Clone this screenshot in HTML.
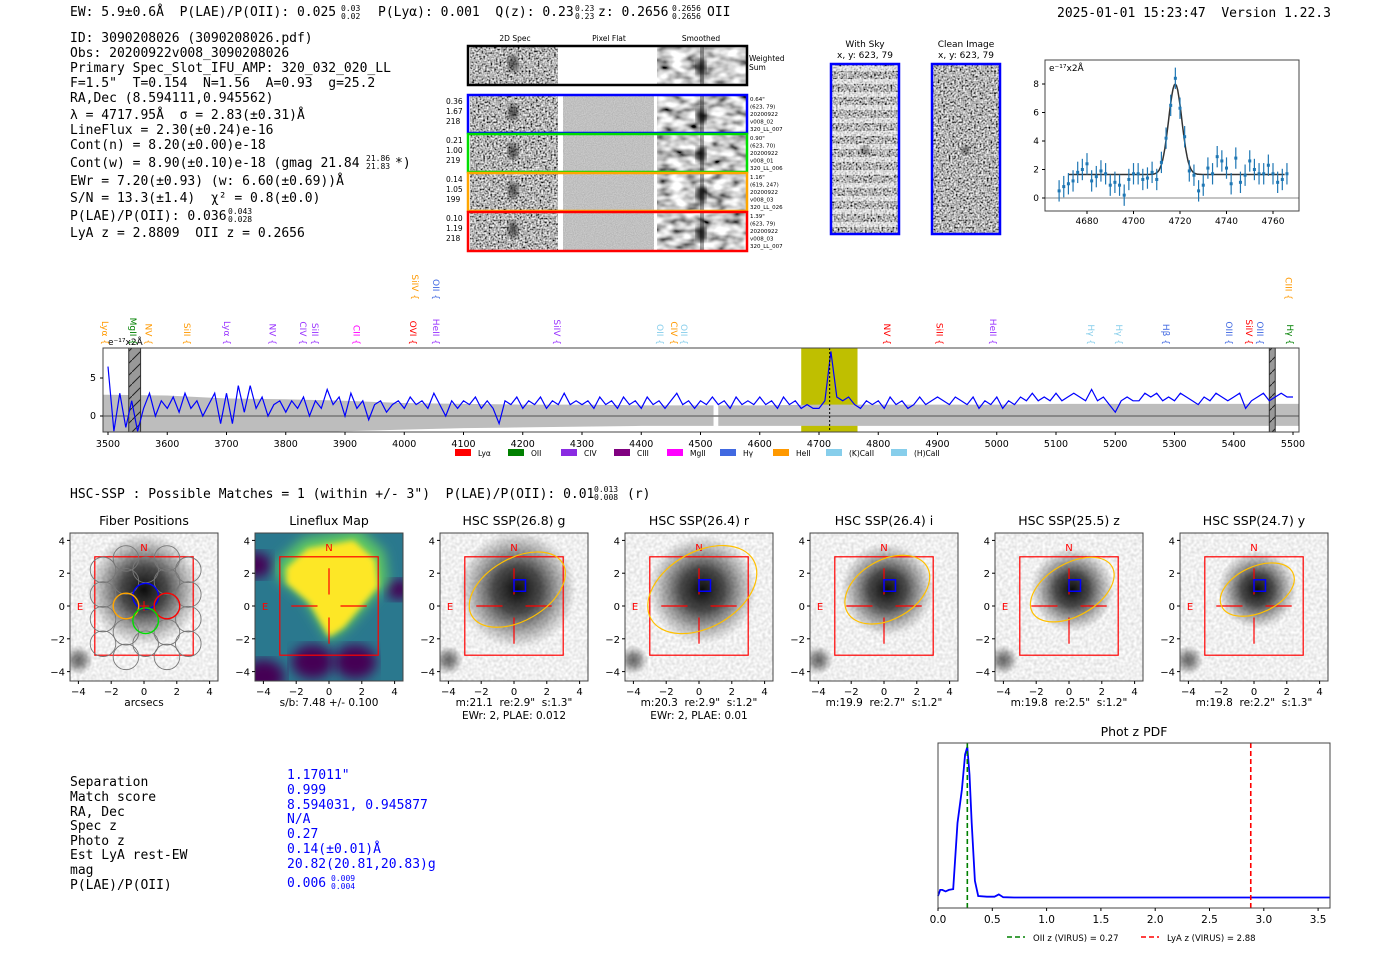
<!DOCTYPE html>
<html><head><meta charset="utf-8"><style>
html,body{margin:0;padding:0;background:#fff;}
svg{display:block;}
text{white-space:pre;}
.m{font-family:"DejaVu Sans Mono","Liberation Mono",monospace;font-size:13px;fill:#000;white-space:pre;}
.m[font-size="8"]{font-size:8px;}
.s{font-family:"DejaVu Sans","Liberation Sans",sans-serif;}
</style></head><body>
<svg id="root" width="1400" height="953" viewBox="0 0 1400 953" xmlns="http://www.w3.org/2000/svg" xml:space="preserve">
<defs>
<filter id="noiseHi" x="0" y="0" width="1" height="1"><feTurbulence type="fractalNoise" baseFrequency="0.55" numOctaves="1" seed="4"/><feColorMatrix type="matrix" values="2.0 0 0 0 -0.55 2.0 0 0 0 -0.55 2.0 0 0 0 -0.55 0 0 0 0 1"/></filter>
<filter id="noiseSm" x="0" y="0" width="1" height="1"><feTurbulence type="fractalNoise" baseFrequency="0.07 0.12" numOctaves="2" seed="7"/><feColorMatrix type="matrix" values="2.0 0 0 0 -0.4 2.0 0 0 0 -0.4 2.0 0 0 0 -0.4 0 0 0 0 1"/></filter>
<filter id="noiseFlat" x="0" y="0" width="1" height="1"><feTurbulence type="fractalNoise" baseFrequency="0.9" numOctaves="1" seed="2"/><feColorMatrix type="matrix" values="0.3 0 0 0 0.38 0.3 0 0 0 0.38 0.3 0 0 0 0.38 0 0 0 0 1"/></filter>
<filter id="noiseLt" x="0" y="0" width="1" height="1"><feTurbulence type="fractalNoise" baseFrequency="0.35" numOctaves="1" seed="9"/><feColorMatrix type="matrix" values="0.5 0 0 0 0.62 0.5 0 0 0 0.62 0.5 0 0 0 0.62 0 0 0 0 1"/></filter>
<filter id="blur6"><feGaussianBlur stdDeviation="6"/></filter>
<filter id="blur3"><feGaussianBlur stdDeviation="3"/></filter>
<radialGradient id="blob"><stop offset="0" stop-color="#000" stop-opacity="0.95"/><stop offset="0.4" stop-color="#111" stop-opacity="0.75"/><stop offset="1" stop-color="#333" stop-opacity="0"/></radialGradient>
<pattern id="hatch" width="12" height="12" patternUnits="userSpaceOnUse"><rect width="12" height="12" fill="#999"/><path d="M0 12 L12 0" stroke="#222" stroke-width="1"/></pattern>
</defs>

<g>
<text class="m" x="70" y="16">EW: 5.9±0.6Å  P(LAE)/P(OII): 0.025</text>
<text class="m" x="341" y="11" font-size="8">0.03</text><text class="m" x="341" y="19" font-size="8">0.02</text>
<text class="m" x="378" y="16">P(Lyα): 0.001  Q(z): 0.23</text>
<text class="m" x="575" y="11" font-size="8">0.23</text><text class="m" x="575" y="19" font-size="8">0.23</text>
<text class="m" x="598" y="16">z: 0.2656</text>
<text class="m" x="672" y="11" font-size="8">0.2656</text><text class="m" x="672" y="19" font-size="8">0.2656</text>
<text class="m" x="707" y="16">OII</text>
<text class="m" x="1057" y="17">2025-01-01 15:23:47  Version 1.22.3</text>
</g>

<g>
<text class="m" x="70" y="42">ID: 3090208026 (3090208026.pdf)</text>
<text class="m" x="70" y="57">Obs: 20200922v008_3090208026</text>
<text class="m" x="70" y="72">Primary Spec_Slot_IFU_AMP: 320_032_020_LL</text>
<text class="m" x="70" y="87">F=1.5"  T=0.154  N=1.56  A=0.93  g=25.2</text>
<text class="m" x="70" y="102">RA,Dec (8.594111,0.945562)</text>
<text class="m" x="70" y="119">λ = 4717.95Å  σ = 2.83(±0.31)Å</text>
<text class="m" x="70" y="134">LineFlux = 2.30(±0.24)e-16</text>
<text class="m" x="70" y="149">Cont(n) = 8.20(±0.00)e-18</text>
<text class="m" x="70" y="167">Cont(w) = 8.90(±0.10)e-18 (gmag 21.84</text>
<text class="m" x="366" y="161" font-size="8">21.86</text><text class="m" x="366" y="169" font-size="8">21.83</text>
<text class="m" x="395" y="167">*)</text>
<text class="m" x="70" y="185">EWr = 7.20(±0.93) (w: 6.60(±0.69))Å</text>
<text class="m" x="70" y="202">S/N = 13.3(±1.4)  χ² = 0.8(±0.0)</text>
<text class="m" x="70" y="220">P(LAE)/P(OII): 0.036</text>
<text class="m" x="228" y="214" font-size="8">0.043</text><text class="m" x="228" y="222" font-size="8">0.028</text>
<text class="m" x="70" y="237">LyA z = 2.8809  OII z = 0.2656</text>
</g>

<g id="spec2d"></g>
<g id="cutsky"></g>
<g id="zoomplot"></g>
<g id="fullspec"></g>

<text class="m" x="70" y="498">HSC-SSP : Possible Matches = 1 (within +/- 3")  P(LAE)/P(OII): 0.01</text>
<text class="m" x="594" y="492" font-size="8">0.013</text><text class="m" x="594" y="500" font-size="8">0.008</text>
<text class="m" x="627" y="498">(r)</text>

<g id="cutouts"></g>

<g>
<text class="m" x="70" y="786">Separation</text>
<text class="m" x="70" y="801">Match score</text>
<text class="m" x="70" y="816">RA, Dec</text>
<text class="m" x="70" y="830">Spec z</text>
<text class="m" x="70" y="845">Photo z</text>
<text class="m" x="70" y="859">Est LyA rest-EW</text>
<text class="m" x="70" y="874">mag</text>
<text class="m" x="70" y="889">P(LAE)/P(OII)</text>
<text class="m" x="287" y="779" style="fill:#0000ff">1.17011"</text>
<text class="m" x="287" y="794" style="fill:#0000ff">0.999</text>
<text class="m" x="287" y="809" style="fill:#0000ff">8.594031, 0.945877</text>
<text class="m" x="287" y="823" style="fill:#0000ff">N/A</text>
<text class="m" x="287" y="838" style="fill:#0000ff">0.27</text>
<text class="m" x="287" y="853" style="fill:#0000ff">0.14(±0.01)Å</text>
<text class="m" x="287" y="868" style="fill:#0000ff">20.82(20.81,20.83)g</text>
<text class="m" x="287" y="887" style="fill:#0000ff">0.006</text>
<text class="m" x="331" y="881" font-size="8" style="fill:#0000ff">0.009</text><text class="m" x="331" y="889" font-size="8" style="fill:#0000ff">0.004</text>
</g>

<g id="pdfplot"></g>
</svg>

<script>
// ---------- data ----------
const specStart = 3500, specStep = 10;
const specFlux = [6.5,-2,3,-1.5,2,-2,1,3,0,2,
1,2.5,0.5,3,1,2,0,1.5,3,-1,
3,-1,4,0.5,4,1,2.5,0,1.5,2,
0.5,2,1,2.5,0,2,1,3.5,1.5,2.5,
0,3,1,2,-0.5,1.5,2,0.5,1.5,2,
1,2.5,1.5,2,1,3,1.5,0,2,1,
2,1.5,2.5,1,2,1,-1,2,1.5,2.5,
1,2,1.5,2.5,1,2,1.5,3,1.5,2,
1.5,2,1,2.5,1.5,2,1,2.5,1.5,2,
1,2.5,1.5,2,1,2,3,1.5,2,1,
2,1.5,2.5,1.5,2,1,2.5,1.5,2,1.5,
2.5,1.5,2,1,2.5,1.5,2,1,1.5,1,
1,2,8.5,2.5,2,2.5,1.5,1,2,1.5,
2,1,2.5,1.5,2,1,1.5,2.5,1.5,2,
2.5,2,1.5,2.5,2,1.5,2.5,1,2,1.5,
2.5,1,2,1.5,2.5,2,3,2,2.5,2,
3,2,2.5,3,2.5,2,3.5,2,2.5,1.5,
0.5,2,2.5,2,2,3,2.5,3,2,2.5,
2,3,2.5,2,1.5,2.5,2,3,2.5,2,
2.5,3,1,2,2.5,3,2,2.5,3,2.5,
2.5];
const errWave = [3500,3600,3700,3800,3900,4000,4100,4200,4300,4400,4500,4600,4700,4800,4900,5000,5100,5200,5300,5400,5500];
const errHi = [2.8,2.7,2.3,2.2,2.0,1.7,1.6,1.5,1.5,1.4,1.4,1.4,1.5,1.5,1.5,1.5,1.6,1.6,1.6,1.6,1.6];
const errLo = [-2.8,-2.7,-2.5,-2.3,-2.0,-1.8,-1.6,-1.5,-1.4,-1.3,-1.3,-1.3,-1.3,-1.3,-1.3,-1.3,-1.3,-1.3,-1.3,-1.3,-1.3];
const specTicks = [3500,3600,3700,3800,3900,4000,4100,4200,4300,4400,4500,4600,4700,4800,4900,5000,5100,5200,5300,5400,5500];
const lineWaves = [3495,3542,3568,3633,3701,3778,3829,3849,3919,4015,4054,4018,4054,4258,4432,4455,4472,4815,4903,4994,5159,5206,5286,5392,5426,5444,5492,5495];
const lineNames = ["Lyα","MgII","NV","SiII","Lyα","NV","CIV","SiII","CII","OVI","HeII","SiIV","OII","SiIV","OII","CIV","OII","NV","SiII","HeII","Hγ","Hγ","Hβ","OIII","SiIV","OIII","CIII","Hγ"];
const lineColors = ["#ff9900","#008000","#ff9900","#ff9900","#9933ff","#9933ff","#9933ff","#9933ff","#ff00ff","#ff0000","#9933ff","#ff9900","#4169e1","#9933ff","#87ceeb","#ff9900","#87ceeb","#ff0000","#ff0000","#9933ff","#87ceeb","#87ceeb","#4169e1","#4169e1","#ff0000","#4169e1","#ff9900","#008000"];
const lineRow = [0,0,0,0,0,0,0,0,0,0,0,1,1,0,0,0,0,0,0,0,0,0,0,0,0,0,1,0];
const legendNames = ["Lyα","OII","CIV","CIII","MgII","Hγ","HeII","(K)CaII","(H)CaII"];
const legendColors = ["#ff0000","#008000","#8a2be2","#800080","#ff00ff","#4169e1","#ff9900","#87ceeb","#87ceeb"];

const fitStart = 4668, fitStep = 2;
const fitFlux = [0.5,0.8,1,1.2,1.8,2,2.4,1.2,1.5,1.9,1.7,0.9,1.1,0.9,0.2,1.3,1.7,1.7,1.3,1.4,1.8,1.3,2.5,4.2,6.5,8.4,6.3,4.3,1.9,1.6,0.5,0.9,2.1,1.7,2.9,2.6,2.1,1,2.8,1.1,1.6,2.6,2,1.7,1.7,2.3,1.7,1.1,1.3,1.7];
const fitErr = 0.75;
const fitParams = [4717.95, 2.83, 6.35, 1.65];
const fitTicksX = [4680,4700,4720,4740,4760];
const fitTicksY = [0,2,4,6,8];

const pdfZ = [0,0.02,0.04,0.07,0.1,0.14,0.18,0.22,0.25,0.27,0.29,0.31,0.34,0.37,0.45,0.52,0.56,0.6,0.7,1,2,3,3.61];
const pdfP = [0.02,0.06,0.06,0.05,0.06,0.065,0.5,0.72,0.95,1.0,0.82,0.5,0.12,0.02,0.015,0.015,0.03,0.012,0.01,0.01,0.01,0.01,0.01];
const pdfTicks = [0.0,0.5,1.0,1.5,2.0,2.5,3.0,3.5];
const pdfMarks = [0.27, 2.88];

const cutTitles = ["Fiber Positions","Lineflux Map","HSC SSP(26.8) g","HSC SSP(26.4) r","HSC SSP(26.4) i","HSC SSP(25.5) z","HSC SSP(24.7) y"];
const cutCap1 = ["arcsecs","s/b: 7.48 +/- 0.100",'m:21.1  re:2.9"  s:1.3"','m:20.3  re:2.9"  s:1.2"','m:19.9  re:2.7"  s:1.2"','m:19.8  re:2.5"  s:1.2"','m:19.8  re:2.2"  s:1.3"'];
const cutCap2 = ["","","EWr: 2, PLAE: 0.012","EWr: 2, PLAE: 0.01","","",""];
const blobR = [2.3,0,2.4,2.2,1.9,1.7,1.6];
const ellRx = [0,0,3.2,3.6,2.8,2.8,2.4];
const ellRy = [0,0,1.9,2.3,1.8,1.6,1.4];
const ellAng = [0,0,30,30,30,30,25];
const cutTicks = [-4,-2,0,2,4];

const NS="http://www.w3.org/2000/svg";
function mk(tag, attrs, parent, txt){const e=document.createElementNS(NS,tag);for(const k in attrs)e.setAttribute(k,attrs[k]);if(txt!==undefined)e.textContent=txt;parent.appendChild(e);return e;}

// ---------- 2D spectra ----------
(function(){
const g=document.getElementById('spec2d');
const sf="font-family:'DejaVu Sans',sans-serif;font-size:7.5px";
[["2D Spec",515],["Pixel Flat",609],["Smoothed",701]].forEach(a=>{const t=mk('text',{x:a[1],y:41,'text-anchor':'middle',style:sf},g,a[0]);});
const rows=[[46,85,'#000',null],[95,133,'#0000ff',["0.36","1.67","218"],["0.64\"","(623, 79)","20200922","v008_02","320_LL_007"]],[134,172,'#00dd00',["0.21","1.00","219"],["0.90\"","(623, 70)","20200922","v008_01","320_LL_006"]],[173,211,'#ffa500',["0.14","1.05","199"],["1.16\"","(619, 247)","20200922","v008_03","320_LL_026"]],[212,251,'#ff0000',["0.10","1.19","218"],["1.39\"","(623, 79)","20200922","v008_03","320_LL_007"]]];
rows.forEach((r,i)=>{
 const y0=r[0],y1=r[1];
 const row=mk('g',{},g);
 
 
 mk('rect',{x:470,y:y0,width:88,height:y1-y0,filter:'url(#noiseHi)'},row);
 mk('ellipse',{cx:513,cy:y0+(y1-y0)*0.45,rx:5,ry:8,fill:'#000',opacity:0.6,filter:'url(#blur3)'},row);
 if(i===0) mk('rect',{x:558,y:y0,width:99,height:y1-y0,fill:'#fff'},row);
 else mk('rect',{x:563,y:y0,width:91,height:y1-y0,filter:'url(#noiseFlat)'},row);
 mk('rect',{x:657,y:y0,width:89,height:y1-y0,filter:'url(#noiseSm)'},row);
 mk('ellipse',{cx:701,cy:y0+(y1-y0)*0.55,rx:5,ry:8,fill:'#000',opacity:0.85,filter:'url(#blur3)'},row);
 mk('rect',{x:700,y:y0,width:4,height:y1-y0,fill:'#000',opacity:0.35},row);
 mk('rect',{x:468,y:y0,width:279,height:y1-y0,fill:'none',stroke:r[2],'stroke-width':2.5},row);
 if(r[3]) r[3].forEach((s,k)=>mk('text',{x:446,y:y0+9+k*10,style:"font-family:'DejaVu Sans',sans-serif;font-size:7.5px"},row,s));
 if(r[4]) r[4].forEach((s,k)=>mk('text',{x:750,y:y0+6+k*7.5,style:"font-family:'DejaVu Sans',sans-serif;font-size:5.5px"},row,s));
});
mk('text',{x:749,y:61,style:sf},g,'Weighted');
mk('text',{x:749,y:70,style:sf},g,'Sum');
})();

// ---------- sky cutouts ----------
(function(){
const g=document.getElementById('cutsky');
const sf="font-family:'DejaVu Sans',sans-serif;font-size:9px";
[[831,"With Sky"],[932,"Clean Image"]].forEach((c,i)=>{
 const p=mk('g',{},g);
 
 
 mk('text',{x:c[0]+34,y:47,'text-anchor':'middle',style:sf},p,c[1]);
 mk('text',{x:c[0]+34,y:58,'text-anchor':'middle',style:sf},p,'x, y: 623, 79');
 mk('rect',{x:c[0],y:64,width:68,height:170,filter:'url(#noiseHi)'},p);
 if(i===0){ for(let k=0;k<13;k++) mk('rect',{x:c[0],y:66+k*13,width:68,height:5,fill:'#fff',opacity:0.55},p); }
 mk('ellipse',{cx:c[0]+34,cy:150,rx:4,ry:4,fill:'#000',opacity:0.6,filter:'url(#blur3)'},p);
 mk('rect',{x:c[0],y:64,width:68,height:170,fill:'none',stroke:'#0000ff','stroke-width':2.5},p);
});
})();

// ---------- zoomed line fit ----------
(function(){
const g=document.getElementById('zoomplot');
const zx=w=>1087+(w-4680)*2.325, zy=v=>198-v*14.25;
const X0=1045,X1=1299,Y0=60,Y1=211;
mk('line',{x1:X0,x2:X1,y1:zy(0),y2:zy(0),stroke:'#888','stroke-width':1},g);
let d='';
for(let w=4672;w<=4765;w+=0.5){const v=fitParams[3]+fitParams[2]*Math.exp(-Math.pow(w-fitParams[0],2)/(2*fitParams[1]*fitParams[1]));d+=(d?'L':'M')+zx(w).toFixed(1)+' '+zy(v).toFixed(1);}
const fc=mk('path',{d:d,fill:'none',stroke:'#333','stroke-width':1.5},g);


fitFlux.forEach((v,i)=>{
 const w=fitStart+i*fitStep;
 const pt=mk('g',{},g);
 
 
 mk('line',{x1:zx(w),x2:zx(w),y1:zy(v-fitErr),y2:zy(v+fitErr),stroke:'#1f77b4','stroke-width':1.2},pt);
 mk('rect',{x:zx(w)-1.5,y:zy(v)-1.5,width:3,height:3,fill:'#1f77b4'},pt);
});
mk('rect',{x:X0,y:Y0,width:X1-X0,height:Y1-Y0,fill:'none',stroke:'#444','stroke-width':1},g);
mk('text',{x:1049,y:71,style:"font-family:'DejaVu Sans',sans-serif;font-size:9px"},g,'e⁻¹⁷x2Å');
fitTicksX.forEach(t=>{mk('line',{x1:zx(t),x2:zx(t),y1:Y1,y2:Y1+3,stroke:'#000'},g);const e=mk('text',{x:zx(t),y:Y1+13,'text-anchor':'middle',style:"font-family:'DejaVu Sans',sans-serif;font-size:9px"},g,t);});
fitTicksY.forEach(t=>{mk('line',{x1:X0-3,x2:X0,y1:zy(t),y2:zy(t),stroke:'#000'},g);const e=mk('text',{x:X0-6,y:zy(t)+3,'text-anchor':'end',style:"font-family:'DejaVu Sans',sans-serif;font-size:9px"},g,t);});
})();

// ---------- full spectrum ----------
(function(){
const g=document.getElementById('fullspec');
const sx=w=>108+(w-3500)*0.5925, sy=v=>416-v*7.6;
const X0=103,X1=1299,Y0=348,Y1=432;
const cp=mk('clipPath',{id:'specclip'},g); mk('rect',{x:X0,y:Y0,width:X1-X0,height:Y1-Y0},cp);
const inner=mk('g',{'clip-path':'url(#specclip)'},g);
const band=mk('rect',{x:sx(4670),y:Y0,width:sx(4765)-sx(4670),height:Y1-Y0,fill:'#bfbf00'},inner);


let d='M'+sx(3490)+' '+sy(errHi[0]);
errWave.forEach((w,i)=>d+=' L'+sx(w)+' '+sy(errHi[i]));
d+=' L'+sx(5510)+' '+sy(errHi[errHi.length-1])+' L'+sx(5510)+' '+sy(errLo[errLo.length-1]);
for(let i=errWave.length-1;i>=0;i--) d+=' L'+sx(errWave[i])+' '+sy(errLo[i]);
d+=' L'+sx(3490)+' '+sy(errLo[0])+'Z';
const eb=mk('path',{d:d,fill:'#bdbdbd'},inner);


mk('rect',{x:sx(4522),y:Y0+30,width:sx(4530)-sx(4522),height:Y1-Y0-30,fill:'#fff'},inner);
mk('line',{x1:X0,x2:X1,y1:sy(0),y2:sy(0),stroke:'#777','stroke-width':1.5},inner);
[[3535,3555],[5460,5470]].forEach(r=>{const h=mk('rect',{x:sx(r[0]),y:Y0,width:sx(r[1])-sx(r[0]),height:Y1-Y0,fill:'url(#hatch)',stroke:'#333'},inner);});
let p='';
specFlux.forEach((v,i)=>{p+=(i?'L':'M')+sx(specStart+i*specStep).toFixed(1)+' '+sy(v).toFixed(1);});
const sl=mk('path',{d:p,fill:'none',stroke:'#0000ff','stroke-width':1.2},inner);


mk('line',{x1:sx(4718),x2:sx(4718),y1:Y0,y2:Y1,stroke:'#000','stroke-dasharray':'2,2'},inner);
mk('rect',{x:X0,y:Y0,width:X1-X0,height:Y1-Y0,fill:'none',stroke:'#444'},g);
mk('text',{x:108,y:345,style:"font-family:'DejaVu Sans',sans-serif;font-size:9px"},g,'e⁻¹⁷x2Å');
specTicks.forEach(t=>{mk('line',{x1:sx(t),x2:sx(t),y1:Y1,y2:Y1+3,stroke:'#000'},g);const e=mk('text',{x:sx(t),y:Y1+15,'text-anchor':'middle',style:"font-family:'DejaVu Sans',sans-serif;font-size:9.5px"},g,t);});
[0,5].forEach(t=>{mk('line',{x1:X0-3,x2:X0,y1:sy(t),y2:sy(t),stroke:'#000'},g);mk('text',{x:X0-7,y:sy(t)+3,'text-anchor':'end',style:"font-family:'DejaVu Sans',sans-serif;font-size:9.5px"},g,t);});
lineWaves.forEach((w,i)=>{
 const x=sx(w), yb = lineRow[i]?300:345;
 const t=mk('text',{x:0,y:0,transform:'translate('+(x-3)+','+(yb)+') rotate(90)','text-anchor':'end',style:"font-family:'DejaVu Sans',sans-serif;font-size:9px;fill:"+lineColors[i]},g,lineNames[i]+' {');
 
 
});
let lx=455;
legendNames.forEach((n,i)=>{
 const lg=mk('g',{},g);
 
 
 mk('rect',{x:lx,y:449,width:16,height:7,fill:legendColors[i]},lg);
 mk('text',{x:lx+23,y:456,style:"font-family:'DejaVu Sans',sans-serif;font-size:7.5px"},lg,n);
 lx+=[53,53,53,53,53,53,53,65,60][i];
});
})();

// ---------- imaging cutouts ----------
(function(){
const g=document.getElementById('cutouts');
const sc=16.4;
cutTitles.forEach((title,i)=>{
 const X0=70+i*185, Y0=533, W=148, cx=X0+74, cy=606;
 const ax=a=>cx+a*sc, ay=a=>cy-a*sc;
 const p=mk('g',{},g);
 
 
 const clip=mk('clipPath',{id:'cc'+i},p); mk('rect',{x:X0,y:Y0,width:W,height:W},clip);
 const im=mk('g',{'clip-path':'url(#cc'+i+')'},p);
 if(i===1){
  mk('rect',{x:X0,y:Y0,width:W,height:W,fill:'#2a788e'},im);
  [[-1,-3.4,1.3],[1.6,-3.4,1.3],[-4,-4.3,1.3],[4.3,1,0.8],[-4.5,2.5,1]].forEach(b=>mk('ellipse',{cx:ax(b[0]),cy:ay(b[1]),rx:b[2]*sc,ry:b[2]*sc*0.8,fill:'#440154',filter:'url(#blur6)'},im));
  const poly=[[-2.6,2.3],[-1.3,3.5],[1.5,4],[2.8,2.8],[3,1.2],[0.9,-1.3],[0,-1.9],[-1.2,0.2],[-2.6,1.4]];
  mk('polygon',{points:poly.map(q=>ax(q[0]*1.2)+','+ay(q[1]*1.15+0.1)).join(' '),fill:'#5ec962',filter:'url(#blur6)'},im);
  mk('polygon',{points:poly.map(q=>ax(q[0])+','+ay(q[1])).join(' '),fill:'#fde725',filter:'url(#blur3)'},im);
 } else {
  mk('rect',{x:X0,y:Y0,width:W,height:W,filter:'url(#noiseLt)'},im);
  const r=blobR[i]*sc;
  mk('circle',{cx:ax(i===0?0:0.2),cy:ay(1),r:r*1.5,fill:'url(#blob)'},im);
  mk('circle',{cx:ax(-4),cy:ay(-3.3),r:0.9*sc,fill:'url(#blob)',opacity:0.6},im);
 }
 mk('rect',{x:ax(-3),y:ay(3),width:6*sc,height:6*sc,fill:'none',stroke:'#ff0000','stroke-width':1.2},p);
 mk('text',{x:ax(0),y:ay(3.6)+4,'text-anchor':'middle',style:"font-family:'DejaVu Sans',sans-serif;font-size:10px;fill:#ff0000"},p,'N');
 mk('text',{x:ax(-3.9),y:ay(0)+4,'text-anchor':'middle',style:"font-family:'DejaVu Sans',sans-serif;font-size:10px;fill:#ff0000"},p,'E');
 if(i===0){
  const fib=[[-2.5,2.2],[-1.1,2.9],[0.1,2.2],[1.4,2.9],[2.7,2.2],[-2.5,0.7],[-1.1,1.5],[1.4,1.5],[2.7,0.7],[-2.5,-0.8],[2.7,-0.8],[-1.1,-1.6],[1.4,-1.6],[-2.5,-2.3],[-1.1,-3.1],[0.1,-2.3],[1.4,-3.1],[2.7,-2.3]];
  fib.forEach(f=>mk('circle',{cx:ax(f[0]),cy:ay(f[1]),r:0.78*sc,fill:'none',stroke:'#777','stroke-width':0.9},p));
  [[0.1,0.6,'#0000ff'],[-1.1,0,'#ffa500'],[1.4,0,'#ff0000'],[0.1,-0.9,'#00dd00']].forEach(f=>{const c=mk('circle',{cx:ax(f[0]),cy:ay(f[1]),r:0.78*sc,fill:'none',stroke:f[2],'stroke-width':1.4},p);});
  mk('line',{x1:ax(-0.3),x2:ax(0.3),y1:ay(0),y2:ay(0),stroke:'#ff0000'},p);
  mk('line',{x1:ax(0),x2:ax(0),y1:ay(-0.3),y2:ay(0.3),stroke:'#ff0000'},p);
 } else {
  [[-2.3,-0.7],[0.7,2.3]].forEach(s=>{mk('line',{x1:ax(s[0]),x2:ax(s[1]),y1:ay(0),y2:ay(0),stroke:'#ff0000','stroke-width':1.2},p);mk('line',{x1:ax(0),x2:ax(0),y1:ay(s[0]),y2:ay(s[1]),stroke:'#ff0000','stroke-width':1.2},p);});
 }
 if(i>=2){
  const e=mk('ellipse',{cx:ax(0.2),cy:ay(1),rx:ellRx[i]*sc,ry:ellRy[i]*sc,fill:'none',stroke:'#ffc000','stroke-width':1.2,transform:'rotate('+(-ellAng[i])+' '+ax(0.2)+' '+ay(1)+')'},p);
  
  
  mk('rect',{x:ax(0),y:ay(1.6),width:0.7*sc,height:0.7*sc,fill:'none',stroke:'#0000ff','stroke-width':1.5},p);
 }
 mk('rect',{x:X0,y:Y0,width:W,height:W,fill:'none',stroke:'#444'},p);
 const tt=mk('text',{x:cx,y:525,'text-anchor':'middle',style:"font-family:'DejaVu Sans',sans-serif;font-size:12.5px"},p,title);
 
 
 cutTicks.forEach(t=>{
  mk('line',{x1:ax(t),x2:ax(t),y1:Y0+W,y2:Y0+W+3,stroke:'#000'},p);
  mk('text',{x:ax(t),y:Y0+W+14,'text-anchor':'middle',style:"font-family:'DejaVu Sans',sans-serif;font-size:10px"},p,t<0?'−'+(-t):t);
  mk('line',{x1:X0-3,x2:X0,y1:ay(t),y2:ay(t),stroke:'#000'},p);
  mk('text',{x:X0-5,y:ay(t)+4,'text-anchor':'end',style:"font-family:'DejaVu Sans',sans-serif;font-size:10px"},p,t<0?'−'+(-t):t);
 });
 mk('text',{x:cx,y:706,'text-anchor':'middle',style:"font-family:'DejaVu Sans',sans-serif;font-size:10.5px"},p,cutCap1[i]);
 if(cutCap2[i]) mk('text',{x:cx,y:719,'text-anchor':'middle',style:"font-family:'DejaVu Sans',sans-serif;font-size:10.5px"},p,cutCap2[i]);
});
})();

// ---------- phot z pdf ----------
(function(){
const g=document.getElementById('pdfplot');
const px=z=>938+z*108.6, py=v=>899-v*152;
const X0=938,X1=1330,Y0=743,Y1=908;
mk('text',{x:1134,y:736,'text-anchor':'middle',style:"font-family:'DejaVu Sans',sans-serif;font-size:12.5px"},g,'Phot z PDF');
let d='';
pdfZ.forEach((z,i)=>d+=(i?'L':'M')+px(z).toFixed(1)+' '+py(pdfP[i]).toFixed(1));
const l=mk('path',{d:d,fill:'none',stroke:'#0000ff','stroke-width':1.8},g);


const mc=['#008000','#ff0000'];
pdfMarks.forEach((z,i)=>{const m=mk('line',{x1:px(z),x2:px(z),y1:Y0,y2:Y1,stroke:mc[i],'stroke-width':1.6,'stroke-dasharray':'5,3'},g);});
mk('rect',{x:X0,y:Y0,width:X1-X0,height:Y1-Y0,fill:'none',stroke:'#444'},g);
pdfTicks.forEach(t=>{mk('line',{x1:px(t),x2:px(t),y1:Y1,y2:Y1+3,stroke:'#000'},g);const e=mk('text',{x:px(t),y:Y1+15,'text-anchor':'middle',style:"font-family:'DejaVu Sans',sans-serif;font-size:10.5px"},g,t.toFixed(1));});
const lg=mk('g',{},g);


mk('line',{x1:1007,x2:1025,y1:937,y2:937,stroke:'#008000','stroke-width':1.6,'stroke-dasharray':'5,3'},lg);
mk('text',{x:1033,y:941,style:"font-family:'DejaVu Sans',sans-serif;font-size:8.5px"},lg,'OII z (VIRUS) = 0.27');
mk('line',{x1:1141,x2:1159,y1:937,y2:937,stroke:'#ff0000','stroke-width':1.6,'stroke-dasharray':'5,3'},lg);
mk('text',{x:1167,y:941,style:"font-family:'DejaVu Sans',sans-serif;font-size:8.5px"},lg,'LyA z (VIRUS) = 2.88');
})();
</script>
</body></html>
